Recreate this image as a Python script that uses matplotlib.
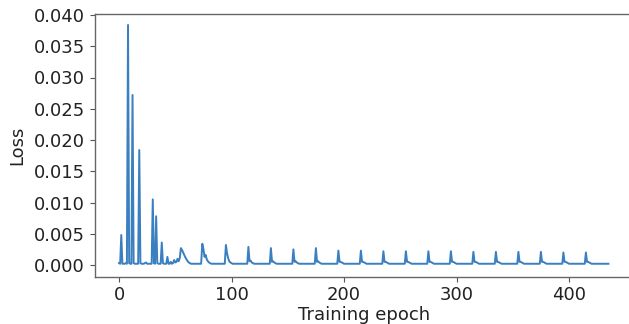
import matplotlib
matplotlib.use("Agg")
import matplotlib.pyplot as plt
from matplotlib.ticker import FormatStrFormatter

# Loss per training epoch (epochs 0..435)
loss_0_19 = [0.0003, 0.0002, 0.0048, 0.0002, 0.0002, 0.0002, 0.0003, 0.0002, 0.0384, 0.0003,
             0.0002, 0.0002, 0.0272, 0.0003, 0.0002, 0.0002, 0.0002, 0.0002, 0.0184, 0.0003]
loss_20_39 = [0.0002, 0.0002, 0.0002, 0.0003, 0.0004, 0.0002, 0.0002, 0.0002, 0.0002, 0.0002,
              0.0105, 0.0003, 0.0002, 0.0078, 0.0003, 0.0002, 0.0002, 0.0002, 0.0036, 0.0003]
loss_40_59 = [0.0002, 0.0002, 0.0002, 0.0013, 0.0002, 0.0002, 0.0005, 0.0002, 0.0003, 0.0008,
              0.0004, 0.0005, 0.0010, 0.0006, 0.0011, 0.0027, 0.0024, 0.0020, 0.0016, 0.0012]
loss_60_79 = [0.0009, 0.0006, 0.0004, 0.0003, 0.0002, 0.0002, 0.0002, 0.0002, 0.0002, 0.0002,
              0.0002, 0.0002, 0.0002, 0.0002, 0.0034, 0.0026, 0.0013, 0.0016, 0.0009, 0.0006]
loss_80_94 = [0.0004, 0.0003, 0.0002, 0.0002, 0.0002, 0.0002, 0.0002, 0.0002, 0.0002, 0.0002,
              0.0002, 0.0002, 0.0002, 0.0002, 0.0002]
loss_95_114 = [0.0032, 0.0019, 0.0011, 0.0006, 0.0004, 0.0003, 0.0002, 0.0002, 0.0002, 0.0002,
               0.0002, 0.0002, 0.0002, 0.0002, 0.0002, 0.0002, 0.0002, 0.0002, 0.0002, 0.0002]
loss_115_134 = [0.0029, 0.0006, 0.0007, 0.0004, 0.0003, 0.0002, 0.0002, 0.0002, 0.0002, 0.0002,
                0.0002, 0.0002, 0.0002, 0.0002, 0.0002, 0.0002, 0.0002, 0.0002, 0.0002, 0.0002]
loss_135_154 = [0.0027, 0.0005, 0.0006, 0.0004, 0.0003, 0.0002, 0.0002, 0.0002, 0.0002, 0.0002,
                0.0002, 0.0002, 0.0002, 0.0002, 0.0002, 0.0002, 0.0002, 0.0002, 0.0002, 0.0002]
loss_155_174 = [0.0025, 0.0005, 0.0006, 0.0004, 0.0003, 0.0002, 0.0002, 0.0002, 0.0002, 0.0002,
                0.0002, 0.0002, 0.0002, 0.0002, 0.0002, 0.0002, 0.0002, 0.0002, 0.0002, 0.0002]
loss_175_194 = [0.0027, 0.0005, 0.0006, 0.0004, 0.0003, 0.0002, 0.0002, 0.0002, 0.0002, 0.0002,
                0.0002, 0.0002, 0.0002, 0.0002, 0.0002, 0.0002, 0.0002, 0.0002, 0.0002, 0.0002]
loss_195_214 = [0.0023, 0.0005, 0.0005, 0.0004, 0.0003, 0.0002, 0.0002, 0.0002, 0.0002, 0.0002,
                0.0002, 0.0002, 0.0002, 0.0002, 0.0002, 0.0002, 0.0002, 0.0002, 0.0002, 0.0002]
loss_215_234 = [0.0023, 0.0005, 0.0005, 0.0004, 0.0003, 0.0002, 0.0002, 0.0002, 0.0002, 0.0002,
                0.0002, 0.0002, 0.0002, 0.0002, 0.0002, 0.0002, 0.0002, 0.0002, 0.0002, 0.0002]
loss_235_254 = [0.0022, 0.0005, 0.0005, 0.0004, 0.0003, 0.0002, 0.0002, 0.0002, 0.0002, 0.0002,
                0.0002, 0.0002, 0.0002, 0.0002, 0.0002, 0.0002, 0.0002, 0.0002, 0.0002, 0.0002]
loss_255_274 = [0.0022, 0.0005, 0.0005, 0.0004, 0.0003, 0.0002, 0.0002, 0.0002, 0.0002, 0.0002,
                0.0002, 0.0002, 0.0002, 0.0002, 0.0002, 0.0002, 0.0002, 0.0002, 0.0002, 0.0002]
loss_275_294 = [0.0022, 0.0005, 0.0005, 0.0004, 0.0003, 0.0002, 0.0002, 0.0002, 0.0002, 0.0002,
                0.0002, 0.0002, 0.0002, 0.0002, 0.0002, 0.0002, 0.0002, 0.0002, 0.0002, 0.0002]
loss_295_314 = [0.0022, 0.0005, 0.0005, 0.0004, 0.0003, 0.0002, 0.0002, 0.0002, 0.0002, 0.0002,
                0.0002, 0.0002, 0.0002, 0.0002, 0.0002, 0.0002, 0.0002, 0.0002, 0.0002, 0.0002]
loss_315_334 = [0.0021, 0.0005, 0.0005, 0.0004, 0.0003, 0.0002, 0.0002, 0.0002, 0.0002, 0.0002,
                0.0002, 0.0002, 0.0002, 0.0002, 0.0002, 0.0002, 0.0002, 0.0002, 0.0002, 0.0002]
loss_335_354 = [0.0021, 0.0005, 0.0005, 0.0004, 0.0003, 0.0002, 0.0002, 0.0002, 0.0002, 0.0002,
                0.0002, 0.0002, 0.0002, 0.0002, 0.0002, 0.0002, 0.0002, 0.0002, 0.0002, 0.0002]
loss_355_374 = [0.0021, 0.0005, 0.0005, 0.0004, 0.0003, 0.0002, 0.0002, 0.0002, 0.0002, 0.0002,
                0.0002, 0.0002, 0.0002, 0.0002, 0.0002, 0.0002, 0.0002, 0.0002, 0.0002, 0.0002]
loss_375_394 = [0.0021, 0.0005, 0.0005, 0.0004, 0.0003, 0.0002, 0.0002, 0.0002, 0.0002, 0.0002,
                0.0002, 0.0002, 0.0002, 0.0002, 0.0002, 0.0002, 0.0002, 0.0002, 0.0002, 0.0002]
loss_395_414 = [0.0020, 0.0005, 0.0005, 0.0004, 0.0003, 0.0002, 0.0002, 0.0002, 0.0002, 0.0002,
                0.0002, 0.0002, 0.0002, 0.0002, 0.0002, 0.0002, 0.0002, 0.0002, 0.0002, 0.0002]
loss_415_435 = [0.0020, 0.0005, 0.0005, 0.0004, 0.0003, 0.0002, 0.0002, 0.0002, 0.0002, 0.0002,
                0.0002, 0.0002, 0.0002, 0.0002, 0.0002, 0.0002, 0.0002, 0.0002, 0.0002, 0.0002,
                0.0002]

loss = (loss_0_19 + loss_20_39 + loss_40_59 + loss_60_79 + loss_80_94 + loss_95_114
        + loss_115_134 + loss_135_154 + loss_155_174 + loss_175_194 + loss_195_214
        + loss_215_234 + loss_235_254 + loss_255_274 + loss_275_294 + loss_295_314
        + loss_315_334 + loss_335_354 + loss_355_374 + loss_375_394 + loss_395_414
        + loss_415_435)
epochs = list(range(len(loss)))

x_ticks = [0, 100, 200, 300, 400]
y_ticks = [0.000, 0.005, 0.010, 0.015, 0.020, 0.025, 0.030, 0.035, 0.040]

W, H = 629, 324
fig = plt.figure(figsize=(W / 100, H / 100), dpi=100)
xlo, xhi = -21.8, 457.5
left_px, top_px, bottom_px = 94.5, 13.5, 276.5
px_per_epoch = 1.125
ax = fig.add_axes([left_px / W, (H - bottom_px) / H,
                   (xhi - xlo) * px_per_epoch / W, (bottom_px - top_px) / H])

ax.plot(epochs, loss, color="#3a7fbf", linewidth=1.4)

ax.set_xlim(xlo, xhi)
ax.set_ylim(-0.00184, 0.04024)
ax.set_xticks(x_ticks)
ax.set_yticks(y_ticks)
ax.yaxis.set_major_formatter(FormatStrFormatter("%.3f"))

text_color = "#222222"
ax.tick_params(labelsize=13, colors="#555555", labelcolor=text_color)
ax.set_xlabel("Training epoch", fontsize=13, color=text_color, labelpad=1)
ax.set_ylabel("Loss", fontsize=13, color=text_color, labelpad=5)
for s in ax.spines.values():
    s.set_color("#666666")
    s.set_linewidth(1.0)
ax.spines["right"].set_visible(False)

fig.savefig("out.png", dpi=100)
